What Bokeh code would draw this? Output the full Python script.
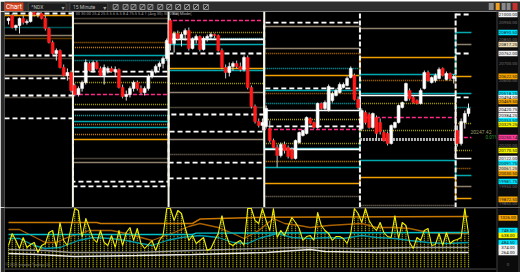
from bokeh.plotting import figure
from bokeh.layouts import column
from bokeh.models import Range1d
from bokeh.embed import file_html
from bokeh.resources import INLINE
from bokeh.core.properties import value

FONT = "Roboto"

# ---------------- data ----------------
session_bars = [18, 26, 26, 26, 26, 4]

opens = [20963, 20994, 20921, 20933, 20976, 20951, 20957, 21012, 21000, 21006, 20976, 20915, 20829, 20762, 20780, 20677, 20628, 20646,
         20567, 20512, 20549, 20585, 20701, 20658, 20707, 20671, 20628, 20658, 20671, 20652, 20665, 20555, 20500, 20512, 20549, 20585, 20549, 20524, 20549, 20622, 20652, 20683, 20701, 20732,
         20963, 20823, 20884, 20854, 20878, 20902, 20793, 20848, 20866, 20787, 20854, 20866, 20878, 20872, 20780, 20677, 20646, 20683, 20701, 20683, 20665, 20738, 20555, 20439, 20347, 20323,
         20317, 20304, 20231, 20189, 20140, 20207, 20189, 20177, 20122, 20219, 20262, 20274, 20366, 20341, 20311, 20457, 20427, 20414, 20475, 20506, 20524, 20555, 20567, 20616, 20628, 20482,
         20304, 20402, 20390, 20311, 20372, 20341, 20280, 20274, 20213, 20311, 20341, 20433, 20475, 20536, 20494, 20475, 20457, 20549, 20646, 20585, 20597, 20610, 20671, 20604, 20640, 20610,
         20292, 20213, 20341, 20396]
highs = [20982, 21006, 20939, 20982, 20994, 20970, 21024, 21018, 21012, 21012, 20994, 20921, 20841, 20793, 20787, 20695, 20671, 20658,
         20579, 20561, 20597, 20726, 20713, 20719, 20719, 20683, 20695, 20683, 20683, 20683, 20671, 20573, 20536, 20561, 20597, 20597, 20567, 20561, 20634, 20665, 20695, 20713, 20744, 20854,
         20976, 20896, 20902, 20890, 20915, 20921, 20860, 20878, 20872, 20866, 20878, 20890, 20884, 20878, 20793, 20695, 20707, 20713, 20719, 20707, 20750, 20750, 20567, 20451, 20366, 20366,
         20445, 20353, 20243, 20207, 20219, 20225, 20201, 20189, 20237, 20286, 20298, 20378, 20372, 20347, 20463, 20463, 20475, 20573, 20530, 20549, 20585, 20585, 20622, 20683, 20640, 20500,
         20427, 20414, 20402, 20402, 20384, 20366, 20292, 20286, 20329, 20347, 20451, 20469, 20585, 20549, 20506, 20482, 20549, 20658, 20658, 20622, 20640, 20677, 20677, 20652, 20646, 20634,
         20323, 20366, 20414, 20457]
lows = [20939, 20915, 20902, 20884, 20939, 20939, 20951, 20988, 20982, 20970, 20902, 20823, 20756, 20719, 20671, 20622, 20597, 20524,
        20500, 20500, 20530, 20573, 20652, 20646, 20665, 20622, 20573, 20640, 20646, 20622, 20549, 20488, 20475, 20494, 20530, 20536, 20512, 20506, 20536, 20610, 20640, 20658, 20671, 20719,
        20780, 20768, 20841, 20805, 20841, 20780, 20787, 20823, 20774, 20780, 20835, 20848, 20854, 20774, 20665, 20610, 20622, 20658, 20671, 20652, 20652, 20543, 20427, 20335, 20311, 20292,
        20304, 20219, 20183, 20067, 20128, 20152, 20122, 20116, 20116, 20213, 20256, 20268, 20329, 20304, 20304, 20420, 20414, 20408, 20463, 20500, 20518, 20549, 20561, 20610, 20475, 20420,
        20292, 20329, 20304, 20304, 20231, 20268, 20225, 20201, 20207, 20304, 20335, 20427, 20469, 20475, 20457, 20451, 20451, 20543, 20591, 20579, 20585, 20604, 20622, 20597, 20597, 20579,
        20195, 20201, 20304, 20378]
closes = [20976, 20921, 20933, 20976, 20951, 20957, 21012, 21000, 21006, 20976, 20915, 20829, 20762, 20780, 20677, 20628, 20646, 20536,
          20512, 20549, 20585, 20707, 20658, 20707, 20671, 20628, 20677, 20671, 20652, 20665, 20555, 20500, 20512, 20549, 20585, 20549, 20524, 20549, 20622, 20652, 20683, 20701, 20732, 20841,
          20823, 20884, 20854, 20878, 20902, 20793, 20848, 20866, 20787, 20854, 20866, 20878, 20872, 20780, 20677, 20646, 20683, 20701, 20683, 20665, 20738, 20555, 20439, 20347, 20323, 20341,
          20427, 20231, 20189, 20140, 20207, 20170, 20134, 20122, 20231, 20280, 20292, 20372, 20335, 20311, 20457, 20427, 20463, 20561, 20518, 20536, 20573, 20573, 20610, 20671, 20482, 20433,
          20414, 20341, 20311, 20396, 20274, 20286, 20231, 20213, 20323, 20341, 20445, 20463, 20579, 20488, 20463, 20457, 20536, 20646, 20597, 20616, 20628, 20665, 20628, 20640, 20610, 20622,
          20213, 20347, 20396, 20427]

# session levels (one value per session, None = not drawn)
lvl_white_dash_1 = [21006, 20652, 20762, 20951, None, 21000]
lvl_white_dash_2 = [20750, 19981, 20390, 20549, None, 20762]
lvl_white_dash_3 = [20610, 19951, 20286, 20317, None, 20494]
lvl_white_dash_4 = [20506, None, 20097, None, None, None]
lvl_white_dash_5 = [20366, None, 20000, None, None, None]
lvl_white_1 = [None, 20622, 20848, 20414, 20506, 20122]
lvl_white_2 = [None, 20420, None, 20177, None, None]
lvl_tan_1 = [20872, 20945, 20524, 20927, 20915, 20817]
lvl_tan_2 = [20628, 20097, 20237, 20793, None, 19951]
lvl_tan_dot_1 = [20732, 20976, 20433, None, None, None]
lvl_tan_dot_2 = [20494, 20122, 20146, 19890, 19835, None]
lvl_orange_1 = [20994, 20237, 20671, 20628, 20738, 20622]
lvl_orange_2 = [None, None, None, 19969, 20006, 19878]
lvl_dkorange_dot_1 = [20854, 20829, None, 20762, 20597, 20061]
lvl_dkorange_dot_2 = [None, 20329, None, 20518, None, None]
lvl_orange_dot_1 = [None, 20268, None, 20103, None, None]
lvl_orange_dot_2 = [None, 20799, None, None, None, None]
lvl_teal_1 = [None, 20750, 20817, 20536, 20634, 20890]
lvl_teal_2 = [None, 20347, 20658, 20183, 20518, 20518]
lvl_teal_3 = [None, 20311, None, 20067, 20109, 20018]
lvl_teal_dot_1 = [20921, 20719, 20854, 20671, None, 20433]
lvl_teal_dot_2 = [None, 20384, None, 20457, None, None]
lvl_olive_dot_1 = [None, 20585, 20890, 20360, 20457, 20335]
lvl_olive_dot_2 = [None, 20451, 20579, 20213, 20292, 20170]
lvl_magenta = [None, 20512, 20963, 20298, 20372, 20250]
lvl_grey_band = [None, None, None, None, 20237, None]

# right price-axis tags
axis_label_prices = [21000.00, 20890.50, 20817.25, 20762.00, 20622.50, 20518.25, 20494.00, 20469.50, 20420.75, 20384.25,
                     20353.50, 20329.25, 20250.14, 20170.50, 20122.00, 20091.75, 20061.25, 20030.50, 19981.75, 19872.50]
axis_label_colors = ["#f2f2f2", "#00e5ff", "#ecdcb4", "#f2f2f2", "#f5a300", "#00e5ff", "#f2f2f2", "#f5a300", "#f2f2f2", "#f2f2f2",
                     "#00e5ff", "#f5f500", "#ff3d9a", "#f5f500", "#f2f2f2", "#00e5ff", "#ecdcb4", "#f5a300", "#00e5ff", "#f5a300"]
axis_tick_prices = [20950, 20850, 20700, 20600, 20200, 19950, 19850]
last_price = 20247.42

# indicator pane
ind_yellow = [418, 682, 528, 352, 594, 374, 440, 484, 264, 418, 462, 704, 748, 374, 924, 528, 418, 814,
              1232, 1188, 594, 1012, 792, 572, 484, 748, 484, 418, 638, 374, 748, 418, 704, 814, 528, 792, 462, 352, 440, 528, 308, 528, 638, 1232,
              1232, 968, 1188, 1122, 814, 528, 638, 462, 528, 594, 308, 352, 528, 682, 1078, 682, 462, 418, 484, 528, 418, 1232, 1232, 968, 902, 1232,
              968, 748, 1232, 594, 748, 638, 836, 1034, 924, 792, 528, 616, 638, 528, 1144, 858, 748, 682, 528, 616, 616, 572, 462, 682, 1232, 1122,
              924, 1232, 968, 836, 748, 924, 704, 616, 594, 1078, 572, 924, 858, 484, 352, 594, 528, 748, 792, 418, 440, 682, 418, 704, 462, 528,
              550, 594, 1232, 682]
orange_flat_x = [0, 24, 25, 50, 52, 70, 125]
orange_flat_v = [924, 924, 902, 902, 1000, 1040, 1056]
orange_wavy_x = [0, 3, 10, 13, 16, 22, 28, 32, 36, 39, 45, 49, 52, 57, 61, 64, 68, 72, 75, 79, 82, 87, 96, 100, 105, 109, 114, 119, 125]
orange_wavy_v = [770, 770, 484, 484, 594, 748, 748, 682, 594, 528, 704, 836, 902, 814, 682, 572, 748, 1012, 902, 858, 814, 858, 902, 814, 814, 792, 704, 682, 682]
cyan_flat_x = [0, 50, 51, 125]
cyan_flat_v = [660, 660, 690, 704]
cyan_wavy_x = [0, 3, 7, 10, 14, 19, 23, 28, 32, 36, 39, 43, 47, 52, 57, 61, 65, 68, 73, 77, 82, 87, 91, 96, 100, 105, 109, 114, 119, 125]
cyan_wavy_v = [572, 572, 418, 352, 374, 528, 594, 572, 528, 462, 418, 528, 594, 638, 594, 484, 462, 572, 682, 594, 572, 594, 572, 638, 594, 572, 528, 484, 462, 484]
grey_x = [0, 10, 17, 35, 50, 68, 80, 95, 110, 125]
grey_v = [330, 308, 264, 264, 308, 352, 374, 352, 374, 374]
white_x = [0, 8, 18, 35, 50, 70, 82, 86, 100, 125]
white_v = [242, 220, 176, 198, 220, 264, 330, 286, 264, 264]
ind_label_values = [1026.00, 748.50, 638.00, 484.50, 374.00, 264.00]
ind_label_colors = ["#f5a300", "#00e5ff", "#f5f500", "#00e5ff", "#f2f2f2", "#f2f2f2"]

# ---------------- layout helpers ----------------
def px(p):
    return (p - 8.0) / 3.68

X0, X1 = px(4), px(520)
LX = px(507.5)
YMIN, YMAX = 19822.7, 21018.3

bounds = [0]
for nb in session_bars:
    bounds.append(bounds[-1] + nb)
sess_start = [b - 0.5 for b in bounds[:-1]]
sess_end = [b - 0.5 for b in bounds[1:]]
sess_start[0] = X0
sess_end[-1] = sess_end[-1] + 0.3


def base_fig(h, yr, left=4):
    f = figure(width=520, height=h, x_range=Range1d(X0, X1), y_range=yr,
               output_backend="svg", toolbar_location=None,
               x_axis_type=None, y_axis_type=None, min_border=0,
               min_border_left=left, background_fill_color="#000000",
               border_fill_color="#2b2b2b", outline_line_color=None)
    return f


# ---------------- toolbar ----------------
tb = figure(width=520, height=11, x_range=Range1d(0, 520), y_range=Range1d(11, 0),
            output_backend="svg", toolbar_location=None, x_axis_type=None, y_axis_type=None,
            min_border=0, background_fill_color="#2d2d2d", border_fill_color="#2d2d2d",
            outline_line_color=None)
tb.quad(left=[0], right=[19], top=[1], bottom=[10], fill_color="#d2401c", line_color=None)
tb.text(x=[9.5], y=[5.8], text=["Chart"], text_font=value(FONT), text_font_size="6.5px",
        text_color="#ffffff", text_align="center", text_baseline="middle")
tb.quad(left=[24, 66], right=[62, 104], top=[1.5, 1.5], bottom=[9.5, 9.5],
        fill_color="#1b1b1b", line_color="#555555", line_width=0.6)
tb.text(x=[27, 69], y=[5.8, 5.8], text=["^NDX", "15 Minute"], text_font=value(FONT),
        text_font_size="5px", text_color="#bbbbbb", text_baseline="middle")
tb.text(x=[59, 101], y=[5.5, 5.5], text=["\u25be", "\u25be"], text_font=value("DejaVu Sans"),
        text_font_size="6px", text_color="#aaaaaa", text_align="center", text_baseline="middle")
icon_x = [112, 122, 130, 139, 147, 157, 166, 175, 184, 193, 203]
tb.rect(x=icon_x, y=[5.5] * len(icon_x), width=5, height=5, fill_color=None,
        line_color="#a8a8a8", line_width=0.8)
tb.segment(x0=[i - 2 for i in icon_x], y0=[7.5] * len(icon_x), x1=[i + 2 for i in icon_x],
           y1=[3.5] * len(icon_x), line_color="#c8c8c8", line_width=0.8)
tb.quad(left=[488, 495, 501, 506, 512], right=[493, 499, 505, 510, 517],
        top=[1.5] * 5, bottom=[8.5] * 5,
        fill_color=["#8a8a8a", "#f0a020", "#8a8a8a", "#8a8a8a", "#c83030"], line_color=None)

# ---------------- main price pane ----------------
p = base_fig(196, Range1d(YMIN, YMAX))

LEVELS = [
    (lvl_tan_1, "#8f806c", 1.5, "solid"),
    (lvl_tan_2, "#8f806c", 1.5, "solid"),
    (lvl_tan_dot_1, "#8f806c", 1.5, "1 1"),
    (lvl_tan_dot_2, "#8f806c", 1.5, "1 1"),
    (lvl_dkorange_dot_1, "#b87000", 1.5, "1 1"),
    (lvl_dkorange_dot_2, "#b87000", 1.5, "1 1"),
    (lvl_orange_dot_1, "#d08a00", 1.5, "1 1"),
    (lvl_orange_dot_2, "#d08a00", 1.5, "1 1"),
    (lvl_orange_1, "#f0a000", 1.5, "solid"),
    (lvl_orange_2, "#f0a000", 1.5, "solid"),
    (lvl_teal_1, "#00a8b0", 1.5, "solid"),
    (lvl_teal_2, "#00a8b0", 1.5, "solid"),
    (lvl_teal_3, "#00a8b0", 1.5, "solid"),
    (lvl_teal_dot_1, "#00a8b0", 1.5, "1 1"),
    (lvl_teal_dot_2, "#00a8b0", 1.5, "1 1"),
    (lvl_olive_dot_1, "#a8a000", 1.5, "1 1"),
    (lvl_olive_dot_2, "#a8a000", 1.5, "1 1"),
    (lvl_magenta, "#ff2a8a", 1.5, "4 2"),
    (lvl_grey_band, "#b4b4b4", 3.0, "2 1"),
    (lvl_white_1, "#ffffff", 1.6, "solid"),
    (lvl_white_2, "#ffffff", 1.6, "solid"),
    (lvl_white_dash_1, "#ffffff", 1.8, "5 3"),
    (lvl_white_dash_2, "#ffffff", 1.8, "5 3"),
    (lvl_white_dash_3, "#ffffff", 1.8, "5 3"),
    (lvl_white_dash_4, "#ffffff", 1.8, "5 3"),
    (lvl_white_dash_5, "#ffffff", 1.8, "5 3"),
]
for vals, color, w, dash in LEVELS:
    xs, ys, cx, cy = [], [], [], []
    for s, v in enumerate(vals):
        if v is None:
            if cx:
                xs.append(cx); ys.append(cy); cx, cy = [], []
            continue
        cx += [sess_start[s], sess_end[s]]
        cy += [v, v]
    if cx:
        xs.append(cx); ys.append(cy)
    p.multi_line(xs, ys, line_color=color, line_width=w, line_dash=dash)

# session separators
seps = sess_end[:-1]
p.segment(x0=seps[:3], y0=[YMIN] * 3, x1=seps[:3], y1=[YMAX] * 3, line_color="#f4f4e8", line_width=2)
p.segment(x0=seps[3:], y0=[YMIN] * 2, x1=seps[3:], y1=[YMAX] * 2, line_color="#f4f4f4", line_width=2, line_dash="5 2")

# candles
n = len(opens)
xb = list(range(n))
is_up = [c >= o for o, c in zip(opens, closes)]
body_top = [max(o, c) for o, c in zip(opens, closes)]
body_bot = [min(o, c) for o, c in zip(opens, closes)]
body_col = ["#ffffff" if u else "#ff1a1a" for u in is_up]
wick_col = ["#e6e6e6" if u else "#c4c4c4" for u in is_up]
p.segment(x0=xb, y0=lows, x1=xb, y1=highs, line_color=wick_col, line_width=1)
p.vbar(x=xb, width=0.8, top=body_top, bottom=body_bot, fill_color=body_col, line_color=body_col, line_width=0.5)

# header info text
p.text(x=[px(75)], y=[21004], text=["30  30.00  25.4  25.5  5.6  6.5  8.4  75.5  5.4  1  (Avg 30)  30.00  30"],
       text_font=value(FONT), text_font_size="4px", text_color="#9a9a9a", text_baseline="middle")
p.text(x=[px(172)], y=[21004], text=["Bar, Mode("], text_font=value(FONT), text_font_size="4px",
       text_color="#b8b8b8", text_baseline="middle")

# last price annotation
p.text(x=[px(470)], y=[last_price + 33], text=[f"{last_price:.2f}"], text_font=value(FONT),
       text_font_size="5px", text_color="#9c9c6a", text_baseline="middle")
p.text(x=[px(485)], y=[last_price], text=["0.01%"], text_font=value(FONT),
       text_font_size="4.5px", text_color="#2e9a2e", text_baseline="middle")

# right price column
p.quad(left=[px(496)], right=[X1], bottom=[YMIN], top=[YMAX], fill_color="#0b0b0b", line_color=None)
p.segment(x0=[px(496.5)], y0=[YMIN], x1=[px(496.5)], y1=[YMAX], line_color="#3c3c3c", line_width=1)
p.quad(left=[px(517.5)], right=[X1], bottom=[YMIN], top=[YMAX], fill_color="#222222", line_color=None)
p.text(x=[LX] * len(axis_tick_prices), y=axis_tick_prices, text=[f"{v:.2f}" for v in axis_tick_prices],
       text_font=value(FONT), text_font_size="4.4px", text_color="#6e6e6e",
       text_align="center", text_baseline="middle")
p.rect(x=[LX] * len(axis_label_prices), y=axis_label_prices, width=19, height=5.6,
       width_units="screen", height_units="screen", fill_color=axis_label_colors, line_color=None)
p.text(x=[LX] * len(axis_label_prices), y=axis_label_prices, text=[f"{v:.2f}" for v in axis_label_prices],
       text_font=value(FONT), text_font_size="4.4px", text_color="#111111",
       text_align="center", text_baseline="middle")

# ---------------- indicator pane ----------------
IMIN, IMAX = -176, 1254
q = base_fig(65, Range1d(IMIN, IMAX))
q.segment(x0=[X0], y0=[1248], x1=[X1], y1=[1248], line_color="#4a4a4a", line_width=1.5)
q.segment(x0=xb, y0=[-60] * n, x1=xb, y1=ind_yellow, line_color="#d4cf00", line_width=1.2, line_dash="1 1")
q.line(orange_flat_x, orange_flat_v, line_color="#c87800", line_width=1.5)
q.line(orange_wavy_x, orange_wavy_v, line_color="#a85f00", line_width=1.3)
q.line(cyan_flat_x, cyan_flat_v, line_color="#00c0c8", line_width=1.4)
q.line(cyan_wavy_x, cyan_wavy_v, line_color="#0098a8", line_width=1.3)
q.line(grey_x, grey_v, line_color="#9a9a9a", line_width=1.3)
q.line(white_x, white_v, line_color="#e8e8e8", line_width=1.3)
q.line(xb, ind_yellow, line_color="#f2ee00", line_width=1.1)
q.segment(x0=[X0], y0=[-100], x1=[px(496)], y1=[-100], line_color="#4a4a4a", line_width=1)
q.text(x=[px(5)], y=[-10], text=["\u00a9 2023 Intraday Trading LLC"], text_font=value(FONT),
       text_font_size="3.6px", text_color="#7a7a7a", text_baseline="middle")
q.quad(left=[px(496)], right=[X1], bottom=[IMIN], top=[1245], fill_color="#0b0b0b", line_color=None)
q.segment(x0=[px(496.5)], y0=[IMIN], x1=[px(496.5)], y1=[1245], line_color="#3c3c3c", line_width=1)
q.quad(left=[px(517.5)], right=[X1], bottom=[IMIN], top=[1245], fill_color="#222222", line_color=None)
q.text(x=[LX], y=[0], text=["0"], text_font=value(FONT), text_font_size="4.4px",
       text_color="#6e6e6e", text_align="center", text_baseline="middle")
q.rect(x=[LX] * len(ind_label_values), y=ind_label_values, width=19, height=5.6,
       width_units="screen", height_units="screen", fill_color=ind_label_colors, line_color=None)
q.text(x=[LX] * len(ind_label_values), y=ind_label_values, text=[f"{v:.2f}" for v in ind_label_values],
       text_font=value(FONT), text_font_size="4.4px", text_color="#111111",
       text_align="center", text_baseline="middle")

layout = column(tb, p, q, spacing=0)
open("out.html", "w").write(file_html(layout, INLINE))
